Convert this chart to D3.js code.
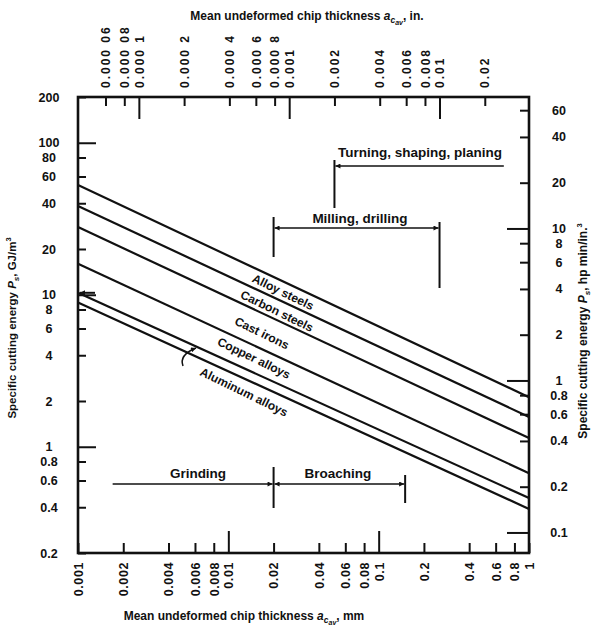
<!DOCTYPE html>
<html>
<head>
<meta charset="utf-8">
<script src="https://cdn.jsdelivr.net/npm/d3@7"></script>
<style>
  body { margin: 0; background: #fff; }
  text { font-family: "Liberation Sans", Arial, sans-serif; fill: #111; }
</style>
</head>
<body>
<script>
// chip thickness (mm) vs specific cutting energy (GJ/m^3), log-log
const w = 592;
const h = 626;

// bottom axis, mm
const mmTicks = [0.001, 0.002, 0.004, 0.006, 0.008, 0.01, 0.02, 0.04, 0.06, 0.08, 0.1, 0.2, 0.4, 0.6, 0.8, 1];
const mmLabels = ["0.001", "0.002", "0.004", "0.006", "0.008", "0.01", "0.02", "0.04", "0.06", "0.08", "0.1", "0.2", "0.4", "0.6", "0.8", "1"];
const mmMajor = [0.01, 0.1];

// top axis, inches
const inTicks = [0.00006, 0.00008, 0.0001, 0.0002, 0.0004, 0.0006, 0.0008, 0.001, 0.002, 0.004, 0.006, 0.008, 0.01, 0.02];
const inLabels = ["0.000 06", "0.000 08", "0.000 1", "0.000 2", "0.000 4", "0.000 6", "0.000 8", "0.001", "0.002", "0.004", "0.006", "0.008", "0.01", "0.02"];
const inMajor = [0.0001, 0.001, 0.01];

// left axis, GJ/m^3
const gjTicks = [200, 100, 80, 60, 40, 20, 10, 8, 6, 4, 2, 1, 0.8, 0.6, 0.4, 0.2];
const gjLabels = ["200", "100", "80", "60", "40", "20", "10", "8", "6", "4", "2", "1", "0.8", "0.6", "0.4", "0.2"];
const gjMajor = [100, 10, 1];

// right axis, hp min/in^3
const hpTicks = [60, 40, 20, 10, 8, 6, 4, 2, 1, 0.8, 0.6, 0.4, 0.2, 0.1];
const hpLabels = ["60", "40", "20", "10", "8", "6", "4", "2", "1", "0.8", "0.6", "0.4", "0.2", "0.1"];
const hpMajor = [10, 1, 0.1];
const gjPerHp = 2.73;

// the six material lines: energy at a = 0.001 mm and at a = 1 mm
const lineEnds = [0.001, 1];
const energyStart = [52.7, 38.4, 27.9, 16.0, 10.3, 8.9];
const energyEnd = [2.12, 1.57, 1.14, 0.67, 0.46, 0.39];

const materials = ["Alloy steels", "Carbon steels", "Cast irons", "Copper alloys", "Aluminum alloys"];

// process ranges, mm
const turning = [0.0508, 0.68];
const milling = [0.02, 0.254];
const grinding = [0.0017, 0.02];
const broaching = [0.02, 0.15];

const plotL = 78, plotR = 529, plotT = 97, plotB = 553;

const x = d3.scaleLog().domain([0.001, 1]).range([plotL, plotR]);
const xIn = d3.scaleLog().domain([0.001 / 25.4, 1 / 25.4]).range([plotL, plotR]);
const y = d3.scaleLog().domain([0.2, 200]).range([plotB, plotT]);
const yHp = d3.scaleLog().domain([0.2 / gjPerHp, 200 / gjPerHp]).range([plotB, plotT]);

const svg = d3.select("body").append("svg").attr("width", w).attr("height", h);

const defs = svg.append("defs");
defs.append("marker")
  .attr("id", "arr")
  .attr("viewBox", "0 0 10 10")
  .attr("refX", 10)
  .attr("refY", 5)
  .attr("markerWidth", 7)
  .attr("markerHeight", 5)
  .attr("markerUnits", "userSpaceOnUse")
  .attr("orient", "auto-start-reverse")
  .append("path")
  .attr("d", "M0,0L10,5L0,10z")
  .attr("fill", "#111");

// frame
svg.append("rect")
  .attr("x", plotL).attr("y", plotT)
  .attr("width", plotR - plotL).attr("height", plotB - plotT)
  .attr("fill", "none").attr("stroke", "#111").attr("stroke-width", 2.6);

// bottom axis
const gB = svg.append("g").attr("transform", `translate(0,${plotB})`)
  .call(d3.axisBottom(x).tickValues(mmTicks).tickSize(-10).tickFormat((d, i) => mmLabels[i]));
gB.selectAll("line").attr("y2", d => mmMajor.includes(d) ? -22 : -10);
gB.selectAll("text")
  .attr("text-anchor", "end")
  .attr("transform", "translate(0,9) rotate(-90)")
  .attr("x", 0).attr("y", 0).attr("dy", "0.35em")
  .attr("letter-spacing", 0.6);

// top axis
const gT = svg.append("g").attr("transform", `translate(0,${plotT})`)
  .call(d3.axisTop(xIn).tickValues(inTicks).tickSize(-9).tickFormat((d, i) => inLabels[i]));
gT.selectAll("line").attr("y2", d => inMajor.includes(d) ? 22 : 9);
gT.selectAll("text")
  .attr("text-anchor", "start")
  .attr("transform", "translate(0,-9) rotate(-90)")
  .attr("x", 0).attr("y", 0).attr("dy", "0.35em")
  .attr("letter-spacing", 2);

// left axis
const gL = svg.append("g").attr("transform", `translate(${plotL},0)`)
  .call(d3.axisLeft(y).tickValues(gjTicks).tickSize(-8).tickFormat((d, i) => gjLabels[i]));
gL.selectAll("line").attr("x2", d => gjMajor.includes(d) ? 18 : 8);
gL.selectAll("text").attr("text-anchor", "middle").attr("x", -29);

// right axis
const gR = svg.append("g").attr("transform", `translate(${plotR},0)`)
  .call(d3.axisRight(yHp).tickValues(hpTicks).tickSize(-9).tickFormat((d, i) => hpLabels[i]));
gR.selectAll("line").attr("x2", d => hpMajor.includes(d) ? -22 : -9);
gR.selectAll("text").attr("text-anchor", "middle").attr("x", 30);

svg.selectAll(".domain").remove();
svg.selectAll(".tick line").attr("stroke", "#111").attr("stroke-width", 2);
svg.selectAll(".tick text").attr("font-size", 12.5).attr("font-weight", "bold").attr("fill", "#111");
gT.selectAll("text").attr("font-size", 12);

// material lines
const lineGen = d3.line().x(d => x(d[0])).y(d => y(d[1]));
svg.append("g")
  .selectAll("path")
  .data(energyStart.map((e, i) => [[lineEnds[0], e], [lineEnds[1], energyEnd[i]]]))
  .join("path")
  .attr("d", lineGen)
  .attr("fill", "none")
  .attr("stroke", "#111")
  .attr("stroke-width", 2.2);

// material labels (pixel centres)
const labelPos = [[283, 292], [277, 311], [262, 333], [254, 358], [244, 392]];
svg.append("g")
  .selectAll("text")
  .data(materials)
  .join("text")
  .attr("transform", (d, i) => `translate(${labelPos[i][0]},${labelPos[i][1]}) rotate(26)`)
  .attr("text-anchor", "middle")
  .attr("dy", "0.35em")
  .attr("font-size", 12)
  .attr("font-weight", "bold")
  .text(d => d);

// little arrows near the lower lines
svg.append("path")
  .attr("d", `M${plotL + 17},${y(10.3)}L${plotL + 2},${y(10.3)}`)
  .attr("stroke", "#111").attr("stroke-width", 2).attr("marker-end", "url(#arr)");
svg.append("path")
  .attr("d", "M183,366 C180,358 186,352 196,348")
  .attr("fill", "none").attr("stroke", "#111").attr("stroke-width", 1.5).attr("marker-end", "url(#arr)");

// process range annotations
const ann = svg.append("g").attr("stroke", "#111").attr("stroke-width", 1.6).attr("fill", "none");
function vbar(a, y1, y2) {
  ann.append("line").attr("x1", x(a)).attr("x2", x(a)).attr("y1", y1).attr("y2", y2).attr("stroke-width", 2);
}
function hline(a1, a2, yy, startArrow, endArrow) {
  const l = ann.append("line")
    .attr("x1", x(a1) + (startArrow ? 1 : 0)).attr("x2", x(a2) - (endArrow ? 1 : 0))
    .attr("y1", yy).attr("y2", yy);
  if (startArrow) l.attr("marker-start", "url(#arr)");
  if (endArrow) l.attr("marker-end", "url(#arr)");
}

// turning
vbar(turning[0], 160, 208);
hline(turning[0], turning[1], 166, true, false);
// milling
vbar(milling[0], 217, 257);
vbar(milling[1], 222, 288);
hline(milling[0], milling[1], 228, true, true);
// grinding / broaching
vbar(grinding[1], 467, 508);
vbar(broaching[1], 475, 503);
hline(grinding[0], grinding[1], 484, false, true);
hline(broaching[0], broaching[1], 484, true, true);

const annText = [
  ["Turning, shaping, planing", 420, 157],
  ["Milling, drilling", 360, 223],
  ["Grinding", 198, 478],
  ["Broaching", 338, 478]
];
svg.append("g")
  .selectAll("text")
  .data(annText)
  .join("text")
  .attr("x", d => d[1]).attr("y", d => d[2])
  .attr("text-anchor", "middle")
  .attr("font-size", 13.5)
  .attr("font-weight", "bold")
  .text(d => d[0]);

// axis titles
function chipTitle(g, unit) {
  g.append("tspan").text("Mean undeformed chip thickness ");
  g.append("tspan").attr("font-style", "italic").text("a");
  g.append("tspan").attr("font-style", "italic").attr("font-size", 8.5).attr("dy", 3).text("c");
  g.append("tspan").attr("font-style", "italic").attr("font-size", 7).attr("dy", 2).text("av");
  g.append("tspan").attr("dy", -5).text(", " + unit);
}
chipTitle(svg.append("text").attr("x", 307).attr("y", 20).attr("text-anchor", "middle")
  .attr("font-size", 12).attr("font-weight", "bold"), "in.");
chipTitle(svg.append("text").attr("x", 244).attr("y", 620).attr("text-anchor", "middle")
  .attr("font-size", 12).attr("font-weight", "bold"), "mm");

function energyTitle(g, unit, sup) {
  g.append("tspan").text("Specific cutting energy ");
  g.append("tspan").attr("font-style", "italic").text("P");
  g.append("tspan").attr("font-style", "italic").attr("font-size", 8).attr("dy", 3).text("s");
  g.append("tspan").attr("dy", -3).text(", " + unit);
  g.append("tspan").attr("font-size", 7.5).attr("dy", -5).text(sup);
}
energyTitle(svg.append("text").attr("transform", "translate(16,328) rotate(-90)").attr("text-anchor", "middle")
  .attr("font-size", 11.5).attr("font-weight", "bold"), "GJ/m", "3");
energyTitle(svg.append("text").attr("transform", "translate(587,331) rotate(-90)").attr("text-anchor", "middle")
  .attr("font-size", 12).attr("font-weight", "bold"), "hp min/in.", "3");
</script>
</body>
</html>
